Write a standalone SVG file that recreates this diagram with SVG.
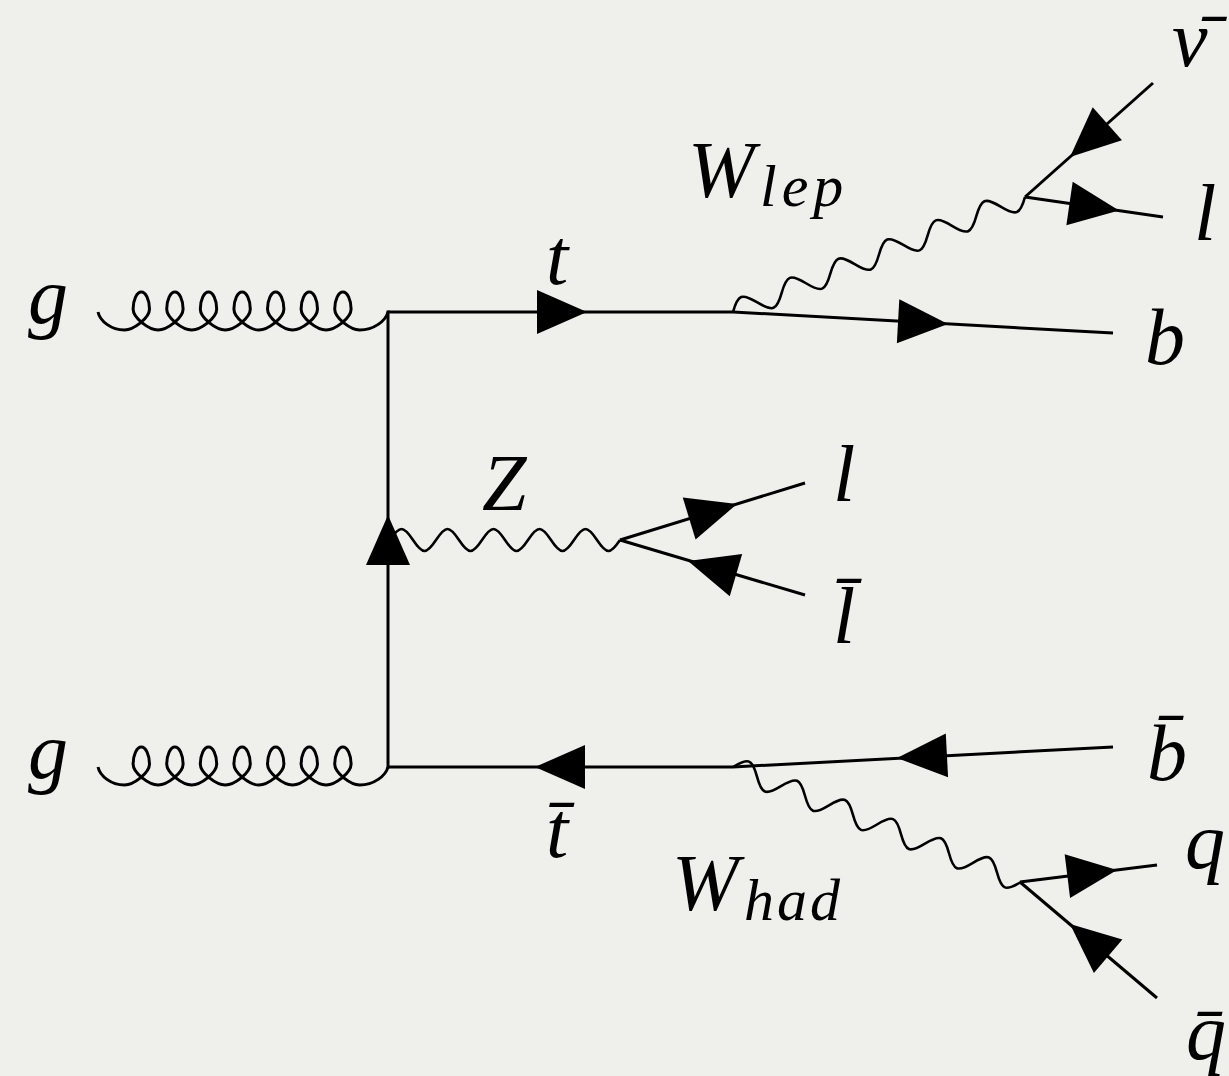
<svg xmlns="http://www.w3.org/2000/svg" xmlns:xlink="http://www.w3.org/1999/xlink" width="1229" height="1076" viewBox="0 0 1229 1076">
<style>
.ln{fill:none;stroke:#000;stroke-width:3;stroke-linecap:butt}
.wv{fill:none;stroke:#000;stroke-width:2.6}
.lb{font-family:'Liberation Serif','Times New Roman',serif;font-style:italic;font-size:80px;fill:#000}
.sb{font-family:'Liberation Serif','Times New Roman',serif;font-style:italic;font-size:60px;fill:#000}
.ah{fill:#000}
</style>
<defs>
<path id="ah" d="M0,0 L-50,-22 L-50,22 Z"/>
<path id="gluon" d="M98,0 c2,9 13,18 26.5,18
c9,0 25,-12 25,-21 c0,-9 -3.7,-17 -8.2,-17 c-4.5,0 -8.2,8 -8.2,17 c0,9 16,21 25,21
c9,0 25,-12 25,-21 c0,-9 -3.7,-17 -8.2,-17 c-4.5,0 -8.2,8 -8.2,17 c0,9 16,21 25,21
c9,0 25,-12 25,-21 c0,-9 -3.7,-17 -8.2,-17 c-4.5,0 -8.2,8 -8.2,17 c0,9 16,21 25,21
c9,0 25,-12 25,-21 c0,-9 -3.7,-17 -8.2,-17 c-4.5,0 -8.2,8 -8.2,17 c0,9 16,21 25,21
c9,0 25,-12 25,-21 c0,-9 -3.7,-17 -8.2,-17 c-4.5,0 -8.2,8 -8.2,17 c0,9 16,21 25,21
c9,0 25,-12 25,-21 c0,-9 -3.7,-17 -8.2,-17 c-4.5,0 -8.2,8 -8.2,17 c0,9 16,21 25,21
c9,0 25,-12 25,-21 c0,-9 -3.7,-17 -8.2,-17 c-4.5,0 -8.2,8 -8.2,17 c0,9 16,21 25,21
c14,0 26,-9 28.3,-18"/>
</defs>
<rect x="0" y="0" width="1229" height="1076" fill="#efefec"/>
<g id="connectors">
  <use xlink:href="#gluon" href="#gluon" class="ln" transform="translate(0,312)"/>
  <use xlink:href="#gluon" href="#gluon" class="ln" transform="translate(0,767)"/>
  <path class="ln" d="M388,312 H733"/>
  <path class="ln" d="M388,310.5 V768.5"/>
  <path class="ln" d="M388,767 H733"/>
  <path class="ln" d="M733,312 L1113,333"/>
  <path class="ln" d="M1025,197 L1153,83"/>
  <path class="ln" d="M1025,197 L1163,217"/>
  <path class="ln" d="M620,540 L805,483"/>
  <path class="ln" d="M620,540 L805,595"/>
  <path class="ln" d="M733,767 L1113,747"/>
  <path class="ln" d="M1020,882 L1157,865"/>
  <path class="ln" d="M1020,882 L1157,998"/>
  <path class="wv" d="M390,540 c9.76,-14.67 13.24,-14.67 23,0 c9.76,14.67 13.24,14.67 23,0 c9.76,-14.67 13.24,-14.67 23,0 c9.76,14.67 13.24,14.67 23,0 c9.76,-14.67 13.24,-14.67 23,0 c9.76,14.67 13.24,14.67 23,0 c9.76,-14.67 13.24,-14.67 23,0 c9.76,14.67 13.24,14.67 23,0 c9.76,-14.67 13.24,-14.67 23,0 c9.76,14.67 13.24,14.67 23,0"/>
  <path class="wv" transform="translate(733,312) rotate(-21.49)" d="M0,0 c11.1,-14.6 15.05,-14.6 26.15,0 c11.1,14.6 15.05,14.6 26.15,0 c11.1,-14.6 15.05,-14.6 26.15,0 c11.1,14.6 15.05,14.6 26.15,0 c11.1,-14.6 15.05,-14.6 26.15,0 c11.1,14.6 15.05,14.6 26.15,0 c11.1,-14.6 15.05,-14.6 26.15,0 c11.1,14.6 15.05,14.6 26.15,0 c11.1,-14.6 15.05,-14.6 26.15,0 c11.1,14.6 15.05,14.6 26.15,0 c11.1,-14.6 15.05,-14.6 26.15,0 c11.1,14.6 15.05,14.6 26.15,0"/>
  <path class="wv" transform="translate(733,767) rotate(21.77)" d="M0,0 c10.97,-14.6 14.87,-14.6 25.84,0 c10.97,14.6 14.87,14.6 25.84,0 c10.97,-14.6 14.87,-14.6 25.84,0 c10.97,14.6 14.87,14.6 25.84,0 c10.97,-14.6 14.87,-14.6 25.84,0 c10.97,14.6 14.87,14.6 25.84,0 c10.97,-14.6 14.87,-14.6 25.84,0 c10.97,14.6 14.87,14.6 25.84,0 c10.97,-14.6 14.87,-14.6 25.84,0 c10.97,14.6 14.87,14.6 25.84,0 c10.97,-14.6 14.87,-14.6 25.84,0 c10.97,14.6 14.87,14.6 25.84,0"/>
  <use xlink:href="#ah" href="#ah" class="ah" transform="translate(587,312)"/>
  <use xlink:href="#ah" href="#ah" class="ah" transform="translate(535,767) rotate(180)"/>
  <use xlink:href="#ah" href="#ah" class="ah" transform="translate(388,515) rotate(-90)"/>
  <use xlink:href="#ah" href="#ah" class="ah" transform="translate(737,504) rotate(-16.95)"/>
  <use xlink:href="#ah" href="#ah" class="ah" transform="translate(688,561) rotate(196.4)"/>
  <use xlink:href="#ah" href="#ah" class="ah" transform="translate(948,324) rotate(3.16)"/>
  <use xlink:href="#ah" href="#ah" class="ah" transform="translate(1119,210.6) rotate(8.25)"/>
  <use xlink:href="#ah" href="#ah" class="ah" transform="translate(1070,157) rotate(138.3)"/>
  <use xlink:href="#ah" href="#ah" class="ah" transform="translate(897,758) rotate(177)"/>
  <use xlink:href="#ah" href="#ah" class="ah" transform="translate(1117,870) rotate(-7.07)"/>
  <use xlink:href="#ah" href="#ah" class="ah" transform="translate(1070,924) rotate(220.3)"/>
</g>
<g id="g-top"><text class="lb" x="28" y="323">g</text></g>
<g id="g-bottom"><text class="lb" x="28" y="778">g</text></g>
<g id="top"><text class="lb" x="546" y="284">t</text></g>
<g id="antitop"><text class="lb" x="546" y="857">t̄</text></g>
<g id="Z"><text class="lb" x="482" y="510">Z</text></g>
<g id="Z-lepton"><text class="lb" x="833" y="501">l</text></g>
<g id="Z-antilepton"><text class="lb" x="833" y="643">l̄</text></g>
<g id="W-lep"><text class="lb" x="688" y="197">W</text><text class="sb" x="760" y="206" letter-spacing="5">lep</text></g>
<g id="W-had"><text class="lb" x="672" y="910">W</text><text class="sb" x="744" y="920" letter-spacing="3">had</text></g>
<g id="antineutrino"><text class="lb" x="1172" y="66">ν̄</text></g>
<g id="lepton"><text class="lb" x="1194" y="240">l</text></g>
<g id="b"><text class="lb" x="1145" y="364">b</text></g>
<g id="antib"><text class="lb" x="1147" y="780">b̄</text></g>
<g id="q"><text class="lb" x="1185" y="868">q</text></g>
<g id="antiq"><text class="lb" x="1186" y="1059">q̄</text></g>
</svg>
